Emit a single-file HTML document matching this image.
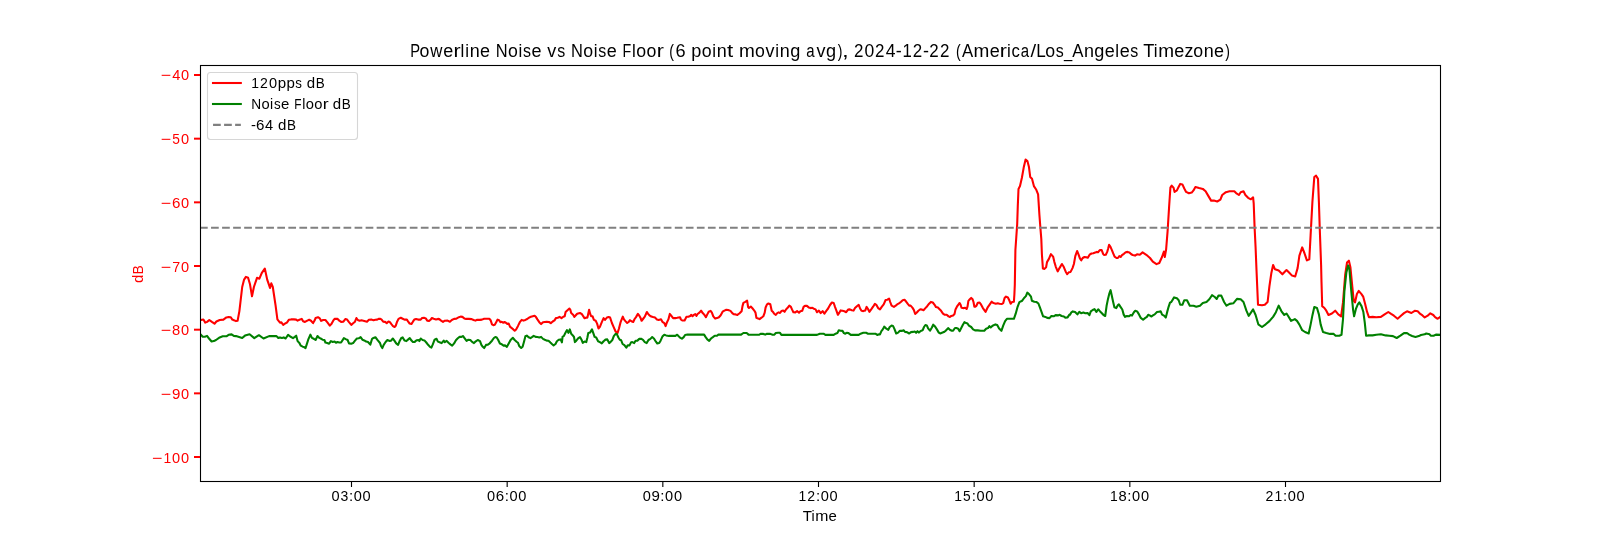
<!DOCTYPE html>
<html><head><meta charset="utf-8"><style>
html,body{margin:0;padding:0;background:#fff;}
svg{display:block;}
svg{will-change:transform;}
</style></head><body>
<svg width="1600" height="540" viewBox="0 0 1600 540" font-family="Liberation Sans, sans-serif">
<rect x="0" y="0" width="1600" height="540" fill="#fff"/>
<defs><clipPath id="ax"><rect x="200" y="65" width="1241" height="417"/></clipPath></defs>
<path clip-path="url(#ax)" d="M200.6,320.0 L203.4,319.5 L205.3,322.6 L207.1,321.9 L209.3,320.0 L211.9,321.9 L214.5,323.7 L216.4,321.5 L219.7,320.0 L223.4,319.6 L226.4,317.4 L228.6,317.0 L230.8,317.3 L232.3,319.6 L234.5,320.4 L236.0,321.1 L237.6,320.7 L239.4,311.1 L242.2,287.0 L244.1,279.6 L245.9,276.9 L248.1,277.8 L250.0,284.3 L252.0,296.3 L253.9,287.0 L257.0,277.8 L259.4,278.7 L261.7,273.1 L264.8,268.5 L267.2,279.6 L269.1,285.2 L270.0,288.0 L271.3,283.3 L272.8,287.0 L275.6,305.6 L277.4,319.4 L280.0,322.6 L281.4,322.4 L283.2,324.9 L285.1,323.5 L286.9,322.6 L288.8,319.8 L291.1,319.4 L293.9,319.4 L296.2,319.6 L297.6,320.6 L299.4,319.8 L301.8,318.9 L303.1,321.2 L305.0,321.9 L307.3,320.6 L309.2,319.8 L311.0,320.7 L313.1,323.1 L314.7,320.3 L315.6,318.0 L318.0,317.2 L319.8,318.4 L321.2,320.9 L323.1,320.0 L325.4,320.0 L327.2,322.1 L329.8,325.6 L331.4,324.0 L333.2,320.7 L334.6,318.9 L337.4,318.7 L339.3,320.7 L341.1,321.9 L343.4,321.7 L345.3,319.1 L347.1,319.6 L349.0,322.1 L351.3,324.9 L353.1,323.3 L355.0,321.7 L356.4,318.0 L357.8,320.0 L359.6,320.7 L361.5,320.3 L363.3,320.7 L365.2,321.2 L367.0,321.7 L368.9,319.8 L371.7,319.6 L373.5,320.3 L375.4,319.8 L377.2,319.6 L378.6,318.9 L380.0,318.7 L381.4,319.4 L383.2,321.7 L385.1,321.9 L386.7,323.1 L388.5,321.5 L389.7,321.9 L391.6,324.4 L393.0,326.1 L394.6,327.0 L395.7,325.8 L397.1,321.7 L398.5,318.9 L400.8,317.8 L402.7,318.7 L404.5,319.6 L406.9,319.6 L408.2,321.7 L409.6,323.5 L411.5,324.0 L412.9,321.7 L414.3,319.6 L416.1,319.1 L418.0,319.6 L420.7,319.6 L422.1,318.0 L424.0,317.8 L425.8,318.4 L427.2,320.6 L429.1,320.9 L430.5,319.8 L431.9,318.0 L433.7,318.7 L436.0,319.4 L437.9,318.9 L439.3,319.1 L441.1,320.7 L443.0,321.9 L444.8,320.7 L447.6,320.6 L449.9,321.7 L451.8,320.0 L454.1,318.9 L456.4,318.7 L458.2,317.5 L460.6,316.6 L462.4,316.9 L464.3,318.4 L466.1,318.9 L468.9,318.9 L471.7,319.1 L473.5,320.0 L475.4,320.6 L477.2,319.8 L480.0,319.9 L481.9,319.6 L484.2,318.7 L486.5,318.7 L489.3,318.7 L490.6,320.2 L492.0,324.3 L493.4,325.2 L494.8,324.8 L496.2,322.2 L497.6,319.6 L499.0,320.2 L500.4,322.2 L501.8,321.8 L503.1,322.7 L504.5,322.0 L505.9,322.7 L507.3,323.9 L508.7,323.6 L510.1,326.9 L511.9,328.2 L513.3,329.4 L514.7,330.7 L516.1,329.4 L518.0,325.9 L519.8,322.2 L521.7,319.9 L523.5,320.6 L525.4,319.9 L527.2,319.0 L529.1,317.6 L530.9,316.7 L532.8,316.2 L534.6,315.7 L536.0,317.1 L537.4,319.4 L539.3,322.2 L541.1,324.1 L543.0,322.2 L544.8,322.0 L546.7,321.8 L549.0,322.0 L550.8,323.1 L552.7,321.5 L554.5,320.4 L555.9,318.1 L557.8,317.8 L559.6,316.9 L561.5,318.1 L563.3,316.7 L564.7,316.2 L565.6,312.0 L567.5,310.2 L569.4,308.5 L570.3,309.7 L571.2,313.0 L573.1,314.8 L574.4,316.9 L575.8,315.3 L577.2,313.7 L580.0,313.0 L581.9,314.1 L583.2,316.2 L584.6,318.3 L586.5,317.6 L587.4,317.6 L589.1,309.7 L590.2,313.9 L591.1,316.2 L592.5,316.2 L593.9,319.9 L595.7,320.8 L597.1,323.6 L598.5,328.5 L599.9,326.9 L601.8,322.2 L603.6,318.1 L605.0,319.9 L606.9,317.6 L608.7,317.1 L610.1,317.6 L611.9,323.0 L613.8,327.3 L615.6,331.5 L617.5,333.1 L618.9,328.7 L620.7,321.8 L622.8,316.7 L624.0,319.4 L625.4,321.1 L627.2,323.0 L628.6,322.0 L630.0,320.2 L631.4,321.3 L633.2,322.0 L634.6,319.0 L636.0,317.1 L637.9,313.9 L639.3,315.7 L640.6,318.1 L641.6,320.8 L643.0,319.0 L644.8,316.7 L646.9,312.0 L648.1,313.9 L649.4,315.3 L651.3,316.5 L653.1,317.1 L655.0,317.6 L656.9,319.4 L658.7,319.9 L661.0,319.3 L662.4,321.8 L664.3,323.1 L665.6,326.1 L667.0,322.2 L668.4,319.4 L669.8,313.9 L671.2,315.7 L673.1,318.1 L675.4,318.1 L677.2,317.8 L680.0,317.2 L680.9,319.5 L682.3,320.5 L684.6,320.5 L685.6,318.6 L686.5,316.8 L688.3,316.8 L690.2,316.1 L691.1,314.9 L692.5,316.1 L693.9,314.9 L695.3,314.0 L696.5,315.8 L697.6,314.0 L699.4,312.6 L701.1,310.7 L702.7,313.1 L704.1,314.4 L705.9,317.2 L707.3,314.4 L708.7,311.7 L710.6,310.9 L711.9,312.6 L713.3,316.3 L715.2,318.6 L717.0,318.1 L718.9,317.2 L720.7,315.2 L722.6,311.7 L724.4,310.6 L726.3,309.8 L728.1,310.0 L730.5,310.9 L732.3,313.1 L733.7,314.3 L735.6,314.4 L737.4,314.9 L739.3,313.5 L741.6,311.2 L742.5,306.1 L743.4,302.9 L745.3,301.9 L747.1,300.7 L748.1,307.0 L749.0,308.0 L750.8,306.6 L752.2,308.0 L754.1,310.3 L755.5,312.6 L756.4,317.7 L758.2,318.6 L759.6,319.1 L761.5,317.7 L763.3,316.3 L764.7,312.6 L765.6,307.5 L767.0,304.3 L768.4,303.5 L770.3,304.3 L771.7,310.7 L773.1,312.1 L774.4,314.0 L775.8,314.9 L777.2,313.1 L778.6,312.4 L780.0,313.0 L781.4,311.1 L783.2,310.6 L784.6,311.8 L786.0,309.4 L787.4,308.1 L789.3,305.6 L790.9,306.9 L792.0,309.4 L793.4,312.2 L795.3,312.4 L797.1,311.1 L799.0,312.7 L800.4,311.3 L802.2,310.8 L803.6,306.9 L805.0,305.7 L806.9,305.9 L808.7,307.4 L810.6,308.1 L812.4,307.8 L813.8,308.7 L815.6,309.4 L817.0,312.2 L818.9,310.6 L820.7,313.1 L822.6,311.1 L824.4,313.6 L826.3,310.8 L828.1,308.5 L830.0,305.0 L831.9,302.5 L833.7,303.0 L835.1,307.1 L836.5,310.8 L837.9,314.8 L839.3,312.7 L840.6,310.4 L842.5,310.8 L844.4,311.3 L846.2,312.2 L848.1,309.6 L849.9,309.4 L851.8,310.2 L853.6,310.6 L855.0,308.1 L856.9,306.2 L858.7,304.8 L860.1,308.5 L861.5,310.8 L863.3,311.1 L865.2,310.6 L866.6,306.9 L868.0,309.0 L869.4,311.8 L871.2,309.4 L873.1,306.7 L874.9,303.9 L876.3,304.8 L878.1,308.1 L880.0,309.4 L881.9,306.7 L883.7,304.4 L885.6,300.0 L887.4,299.7 L889.1,298.5 L890.2,302.0 L891.6,305.7 L893.9,306.9 L895.7,305.7 L897.1,304.4 L899.0,303.4 L900.8,302.0 L902.7,300.2 L904.5,299.7 L905.9,301.3 L907.8,303.9 L909.2,305.6 L910.6,305.6 L912.4,307.6 L913.8,309.9 L915.2,313.9 L916.6,312.7 L918.4,310.8 L920.3,309.3 L922.1,309.6 L923.5,310.2 L925.4,308.1 L927.2,306.2 L929.1,303.7 L930.9,301.9 L932.8,302.5 L934.6,304.8 L936.0,307.1 L937.9,307.6 L939.3,309.0 L941.1,310.8 L943.0,313.6 L944.8,314.8 L946.7,314.8 L948.5,316.4 L949.9,317.0 L951.3,315.9 L953.1,315.5 L954.5,314.1 L955.5,309.4 L956.9,306.7 L958.2,304.8 L959.6,303.0 L960.6,304.8 L961.5,307.8 L963.8,308.1 L965.2,307.8 L966.6,309.0 L967.5,306.7 L968.4,300.9 L969.8,299.3 L971.2,297.9 L972.6,299.3 L973.5,302.0 L974.4,306.7 L975.0,306.8 L976.4,305.8 L977.8,302.8 L979.6,302.6 L981.0,304.4 L982.9,308.1 L985.6,311.9 L987.5,307.7 L989.8,304.4 L991.7,301.7 L993.5,303.1 L995.8,303.7 L997.7,303.3 L999.5,303.7 L1001.9,304.0 L1003.2,303.1 L1004.6,298.0 L1006.0,296.6 L1007.9,297.5 L1009.3,300.3 L1010.6,303.7 L1012.0,302.1 L1013.9,301.7 L1014.4,294.3 L1014.8,285.0 L1015.4,250.0 L1016.3,237.0 L1017.2,224.1 L1017.8,205.6 L1018.5,188.9 L1020.0,186.1 L1021.9,177.8 L1023.7,167.6 L1025.6,159.6 L1027.4,161.1 L1028.9,166.7 L1030.2,176.9 L1032.0,178.7 L1033.9,186.1 L1036.3,189.8 L1038.1,194.4 L1039.4,214.8 L1040.4,227.8 L1041.3,238.9 L1041.9,254.3 L1042.9,268.6 L1044.3,268.9 L1046.1,267.2 L1047.0,262.1 L1048.9,258.9 L1050.9,254.1 L1053.1,256.6 L1054.4,262.1 L1055.8,266.8 L1057.7,271.4 L1059.5,268.1 L1061.9,264.0 L1063.7,266.8 L1065.6,271.4 L1067.2,274.2 L1068.8,272.3 L1070.6,271.9 L1072.5,268.1 L1073.9,264.0 L1075.3,256.1 L1077.1,251.0 L1078.5,254.3 L1079.9,258.4 L1081.3,260.3 L1082.7,258.0 L1084.5,257.0 L1086.4,257.2 L1087.8,257.8 L1089.6,254.7 L1091.5,253.5 L1093.3,253.3 L1095.2,252.6 L1096.6,251.9 L1098.0,252.2 L1099.8,250.1 L1101.7,250.1 L1103.1,253.8 L1104.0,255.0 L1105.8,254.7 L1107.2,251.9 L1108.1,248.7 L1109.1,244.8 L1110.5,246.9 L1111.9,250.1 L1113.2,253.3 L1114.6,256.6 L1116.5,258.0 L1117.9,258.0 L1119.3,256.1 L1120.6,257.0 L1122.0,255.2 L1123.9,253.8 L1125.7,252.2 L1127.6,251.9 L1129.4,252.4 L1131.3,254.3 L1132.7,255.0 L1135.0,255.6 L1137.0,254.3 L1139.8,254.8 L1142.6,252.4 L1146.3,254.8 L1150.0,258.0 L1152.8,261.7 L1156.5,264.1 L1159.3,263.0 L1162.0,257.0 L1163.9,251.5 L1164.8,257.0 L1166.1,249.6 L1167.6,231.1 L1169.1,207.0 L1170.4,187.6 L1171.7,185.7 L1173.5,187.6 L1174.6,191.9 L1176.9,190.4 L1178.7,186.7 L1180.2,183.9 L1182.4,184.4 L1184.3,188.5 L1186.1,191.9 L1188.9,193.3 L1191.7,192.6 L1193.5,190.4 L1195.4,187.0 L1199.1,188.1 L1202.8,188.9 L1205.6,191.3 L1208.3,195.9 L1211.1,200.6 L1213.9,200.6 L1217.2,201.5 L1220.4,199.6 L1222.2,195.0 L1225.9,192.2 L1229.6,191.3 L1234.3,191.3 L1236.1,193.1 L1238.9,195.0 L1240.7,192.2 L1243.5,191.3 L1245.4,195.0 L1248.1,197.8 L1250.9,199.3 L1253.1,197.4 L1253.7,203.3 L1254.6,227.4 L1255.6,247.8 L1256.5,270.0 L1257.2,286.3 L1258.0,304.8 L1262.0,305.2 L1264.8,304.8 L1267.6,302.0 L1269.4,286.3 L1271.3,273.3 L1273.1,265.0 L1275.0,269.3 L1278.7,270.6 L1282.4,274.3 L1285.0,271.5 L1286.5,270.0 L1289.3,272.8 L1292.0,275.6 L1295.2,276.5 L1297.6,268.1 L1299.4,255.7 L1302.2,247.4 L1304.4,253.0 L1306.9,260.4 L1309.3,259.4 L1310.6,235.4 L1312.4,202.0 L1314.3,177.0 L1316.1,175.7 L1318.0,178.9 L1318.9,202.0 L1319.8,229.8 L1321.1,265.0 L1321.5,282.0 L1322.2,306.1 L1324.4,308.0 L1326.3,310.7 L1328.5,315.0 L1331.9,313.5 L1335.2,310.7 L1338.3,314.4 L1341.1,316.3 L1343.0,302.4 L1345.2,274.6 L1347.0,262.6 L1348.9,260.7 L1350.4,267.2 L1352.2,285.7 L1353.7,300.6 L1355.0,302.4 L1356.9,294.1 L1358.7,290.9 L1361.5,294.1 L1363.3,296.9 L1365.2,304.3 L1367.0,311.7 L1368.9,317.2 L1372.6,316.9 L1376.3,317.2 L1380.9,316.9 L1384.6,314.4 L1388.3,312.0 L1391.1,313.9 L1393.9,315.7 L1397.6,318.7 L1400.4,316.3 L1404.0,313.1 L1407.0,311.3 L1411.4,313.0 L1414.7,310.8 L1417.7,311.3 L1420.3,313.9 L1422.5,315.4 L1424.7,317.4 L1427.7,315.7 L1430.3,313.3 L1433.3,315.0 L1435.1,317.2 L1437.3,318.7 L1438.8,318.0 L1440.1,316.9" fill="none" stroke="#ff0000" stroke-width="2.08" stroke-linejoin="round" stroke-linecap="square"/>
<path clip-path="url(#ax)" d="M200.6,334.4 L202.7,336.8 L204.9,336.7 L207.0,335.9 L209.0,338.5 L211.6,341.5 L213.8,341.1 L216.0,340.0 L219.7,337.4 L222.7,336.3 L226.4,336.3 L228.6,334.8 L231.6,334.4 L233.8,335.9 L236.0,336.1 L242.2,338.0 L245.0,335.6 L249.6,334.3 L254.3,338.1 L258.9,335.2 L263.5,338.5 L269.1,336.1 L276.5,336.1 L278.3,338.0 L280.0,337.4 L281.9,337.9 L283.7,337.4 L285.6,338.5 L288.1,334.8 L290.2,336.5 L293.0,338.1 L294.8,336.9 L296.2,335.7 L297.6,341.1 L299.4,343.0 L300.8,345.7 L302.7,346.7 L304.1,347.1 L305.5,348.1 L306.9,343.9 L308.2,339.7 L310.4,334.6 L311.9,337.9 L313.8,338.8 L315.6,340.0 L317.5,336.0 L319.4,337.9 L321.2,338.8 L322.6,339.7 L324.4,340.0 L325.4,342.5 L327.2,343.0 L329.1,343.7 L330.9,341.1 L332.8,342.0 L334.6,341.6 L336.0,342.8 L337.4,342.0 L339.3,342.5 L341.1,342.5 L343.9,338.1 L345.7,339.1 L347.6,340.0 L349.0,343.4 L351.3,343.7 L353.1,343.1 L355.0,340.6 L356.9,338.5 L358.7,338.3 L360.6,337.2 L362.4,339.7 L364.3,340.4 L366.1,341.6 L368.0,342.0 L370.3,344.6 L372.1,338.8 L373.5,337.9 L375.4,337.2 L377.2,339.7 L380.0,343.0 L380.9,345.7 L382.3,348.1 L383.7,344.8 L385.6,342.0 L387.4,340.0 L389.3,340.9 L391.1,340.6 L392.8,338.5 L394.4,340.6 L396.2,343.4 L398.1,344.8 L399.4,341.6 L401.3,337.9 L402.7,337.4 L404.5,340.6 L406.4,341.1 L408.2,339.4 L409.8,338.1 L411.5,340.6 L412.9,342.0 L414.7,341.9 L416.6,340.2 L418.4,340.0 L419.4,341.1 L420.7,338.5 L422.6,340.0 L424.4,340.4 L426.3,342.5 L428.1,344.8 L430.0,346.9 L431.4,347.6 L432.8,344.4 L434.6,339.7 L436.5,338.8 L437.9,341.6 L440.2,342.5 L441.6,343.1 L443.7,340.6 L444.8,342.2 L446.7,340.9 L448.5,342.8 L450.4,344.4 L452.2,345.7 L454.1,343.4 L455.9,340.2 L457.8,338.3 L459.6,336.9 L461.5,336.9 L462.9,336.0 L464.7,338.3 L466.6,340.9 L468.4,339.7 L470.3,340.0 L472.1,341.9 L474.0,343.1 L475.8,341.3 L477.7,340.0 L480.0,341.2 L481.4,344.9 L482.8,346.8 L484.2,348.1 L486.0,344.9 L487.9,344.6 L489.7,343.3 L492.0,340.7 L493.9,338.0 L495.3,337.0 L496.7,337.5 L498.1,339.8 L499.9,343.5 L501.8,344.3 L503.6,345.6 L505.0,345.4 L506.9,346.8 L508.7,343.5 L510.6,340.0 L512.9,337.8 L514.7,340.0 L516.6,341.7 L518.0,342.8 L519.4,346.3 L521.2,348.0 L522.6,346.8 L524.0,341.7 L525.4,336.3 L526.8,335.6 L528.6,337.2 L530.5,338.1 L532.3,336.9 L533.7,335.9 L535.6,336.9 L537.4,337.0 L539.3,337.5 L541.1,336.9 L543.0,338.9 L544.8,339.8 L546.7,340.6 L548.5,340.7 L550.4,342.6 L552.2,344.3 L553.6,345.4 L555.5,344.0 L556.9,341.2 L558.7,339.8 L560.6,339.4 L561.9,342.4 L562.6,336.6 L563.8,336.1 L565.2,333.3 L567.0,330.1 L568.4,332.9 L569.8,329.4 L571.2,333.8 L572.6,335.2 L574.0,337.0 L574.9,342.1 L576.3,340.7 L578.1,338.4 L580.0,337.0 L581.4,339.4 L582.8,342.8 L584.6,341.5 L586.3,342.1 L587.4,337.5 L588.3,332.9 L590.2,332.4 L592.0,329.4 L593.4,333.3 L594.6,336.9 L596.2,337.5 L598.1,341.2 L599.9,342.1 L601.8,343.3 L603.6,341.2 L605.5,339.6 L607.3,339.4 L609.2,343.1 L611.0,341.5 L612.4,339.8 L613.8,336.1 L615.6,333.8 L617.0,334.3 L618.4,337.5 L619.8,339.8 L621.2,340.3 L622.6,344.0 L624.4,345.2 L626.3,347.7 L627.7,345.4 L629.5,345.4 L630.9,342.6 L632.3,342.1 L634.2,343.1 L635.6,340.7 L637.4,340.6 L639.3,338.9 L641.1,338.7 L643.0,339.8 L644.8,342.1 L646.7,343.1 L648.5,340.0 L650.4,338.9 L652.2,337.0 L654.1,338.7 L655.9,341.7 L657.3,343.5 L659.2,343.1 L660.6,340.7 L662.4,336.6 L664.3,334.7 L666.1,335.4 L668.9,335.9 L672.6,335.9 L675.4,335.9 L677.2,334.7 L680.0,337.6 L681.9,338.7 L683.7,337.1 L685.1,335.0 L687.4,334.6 L691.1,334.6 L695.7,334.6 L700.4,334.6 L704.1,334.6 L705.5,336.9 L707.3,339.4 L709.2,340.8 L711.0,338.5 L712.9,337.1 L714.7,335.7 L717.0,335.7 L718.4,334.6 L721.7,334.6 L726.3,334.6 L730.9,334.6 L735.6,334.6 L741.1,334.6 L743.4,333.0 L746.7,333.0 L748.5,334.6 L752.2,334.8 L755.9,334.8 L759.2,334.8 L760.6,333.7 L763.3,333.9 L765.2,334.6 L767.0,333.7 L770.3,333.9 L772.6,334.8 L774.4,334.6 L775.8,333.0 L778.1,332.8 L780.0,332.8 L781.4,334.9 L784.6,334.9 L789.3,334.9 L798.5,334.9 L807.8,334.9 L817.0,334.9 L819.8,333.7 L823.5,333.7 L825.4,334.9 L830.0,334.9 L833.7,334.9 L835.6,333.7 L837.4,333.1 L838.8,330.3 L840.6,330.7 L842.5,330.9 L843.9,333.1 L845.3,333.7 L846.7,332.8 L848.5,333.1 L850.8,334.9 L854.1,334.9 L858.7,334.9 L860.6,333.7 L863.3,332.8 L866.1,332.8 L868.0,333.7 L871.7,333.7 L875.4,333.7 L877.2,334.9 L878.6,334.4 L880.0,334.4 L881.4,331.2 L882.8,329.4 L884.2,326.6 L886.0,328.4 L888.3,329.8 L889.7,327.0 L891.6,325.6 L893.0,325.9 L894.4,328.9 L896.2,333.5 L898.1,332.6 L899.9,330.7 L901.8,330.9 L903.6,330.3 L905.0,331.9 L906.9,332.1 L909.2,333.5 L911.0,332.1 L912.9,331.9 L914.7,331.5 L916.1,332.8 L917.5,331.2 L918.9,332.6 L920.7,330.9 L922.6,330.3 L924.0,327.0 L925.4,325.0 L926.8,325.4 L928.1,328.4 L930.0,330.7 L931.9,327.5 L933.2,324.7 L935.1,326.6 L936.9,329.4 L938.8,332.6 L940.2,333.5 L942.0,332.8 L943.9,332.1 L945.7,330.7 L948.1,328.1 L949.9,329.8 L951.8,330.7 L953.1,330.7 L955.0,328.0 L956.4,328.0 L958.2,328.7 L959.6,331.2 L961.5,327.5 L962.9,324.7 L964.4,322.2 L966.1,323.1 L967.5,323.5 L968.9,325.6 L971.2,327.0 L973.1,329.4 L975.0,330.4 L977.8,330.4 L980.6,330.8 L984.3,330.8 L986.1,328.7 L988.0,328.1 L989.4,326.2 L990.7,327.4 L992.6,325.7 L995.4,324.4 L997.2,325.0 L999.1,328.5 L1001.4,330.8 L1003.2,325.7 L1005.1,321.1 L1006.9,318.8 L1009.3,318.8 L1012.0,318.8 L1013.9,318.8 L1015.7,313.7 L1017.6,306.8 L1019.4,302.1 L1022.2,300.7 L1024.1,298.0 L1025.9,296.1 L1027.3,292.6 L1029.2,294.3 L1031.0,296.6 L1031.9,300.7 L1034.3,301.7 L1036.6,302.1 L1038.4,303.5 L1039.8,307.2 L1041.7,312.3 L1043.1,316.3 L1045.4,316.9 L1047.2,317.9 L1049.5,318.1 L1051.4,316.0 L1053.7,316.3 L1055.6,315.1 L1057.9,315.4 L1059.7,314.8 L1061.6,316.0 L1063.9,316.5 L1065.3,317.6 L1067.6,317.4 L1069.4,314.6 L1070.0,314.8 L1071.4,312.3 L1072.8,311.4 L1075.1,312.0 L1077.4,314.4 L1079.3,311.9 L1081.1,313.2 L1083.4,312.6 L1085.3,313.2 L1087.6,313.0 L1089.4,315.1 L1090.8,311.4 L1092.7,310.0 L1094.5,309.1 L1096.4,311.9 L1098.2,309.3 L1100.1,311.4 L1101.9,313.2 L1103.3,314.8 L1105.2,316.0 L1106.6,305.8 L1108.0,298.9 L1109.4,293.3 L1110.6,290.1 L1111.7,295.2 L1113.1,301.7 L1114.4,307.2 L1116.3,308.1 L1117.7,305.4 L1118.9,304.4 L1120.5,306.8 L1122.3,309.5 L1123.7,314.6 L1125.1,316.9 L1126.9,316.0 L1128.8,316.3 L1130.6,315.1 L1132.0,315.6 L1133.9,312.3 L1135.3,310.7 L1137.1,311.4 L1139.0,314.4 L1140.8,317.9 L1143.1,319.7 L1145.0,318.1 L1146.9,316.9 L1148.2,314.8 L1149.6,315.4 L1151.5,316.5 L1152.9,315.4 L1154.7,314.4 L1157.0,312.0 L1158.9,311.7 L1160.7,311.4 L1162.1,314.6 L1164.0,315.6 L1165.8,317.6 L1167.2,311.9 L1168.6,306.8 L1170.0,302.6 L1171.3,302.0 L1174.1,297.4 L1176.9,298.3 L1178.7,300.2 L1180.2,304.8 L1182.4,304.8 L1184.3,300.2 L1187.0,300.2 L1189.8,305.7 L1193.5,305.7 L1196.3,306.7 L1200.0,305.7 L1202.8,303.0 L1206.5,302.0 L1209.3,299.3 L1212.0,295.2 L1214.8,297.0 L1216.7,298.9 L1218.5,295.6 L1221.3,295.6 L1224.1,302.0 L1226.5,305.7 L1229.6,303.9 L1233.3,303.3 L1237.0,298.9 L1240.7,299.3 L1243.5,302.0 L1246.3,310.4 L1248.7,315.9 L1250.6,313.1 L1253.1,309.4 L1255.6,315.0 L1258.3,324.3 L1262.0,327.0 L1265.7,324.3 L1269.4,321.1 L1273.1,316.9 L1275.9,312.2 L1278.7,305.7 L1281.5,311.3 L1284.3,315.0 L1286.5,313.5 L1288.3,316.3 L1291.1,320.9 L1294.8,319.1 L1297.0,320.9 L1299.4,324.6 L1302.2,330.2 L1305.0,332.0 L1308.7,333.5 L1310.6,324.6 L1312.4,315.4 L1314.3,307.0 L1317.0,308.0 L1318.9,314.4 L1320.7,324.6 L1323.0,332.0 L1326.3,333.0 L1330.0,333.9 L1333.7,333.9 L1335.6,335.7 L1339.3,335.7 L1341.5,334.8 L1343.0,319.1 L1344.4,291.3 L1346.3,272.8 L1348.1,265.4 L1349.4,269.1 L1351.3,291.3 L1353.1,309.8 L1354.1,316.3 L1355.9,308.9 L1357.8,304.3 L1359.3,302.4 L1361.5,306.1 L1363.3,311.7 L1364.8,322.8 L1366.1,335.7 L1368.9,335.4 L1372.6,335.4 L1376.3,334.8 L1380.9,334.3 L1385.6,335.4 L1389.3,335.7 L1393.0,336.1 L1396.7,338.0 L1400.4,335.7 L1404.0,333.1 L1407.0,333.0 L1409.2,334.6 L1412.1,336.0 L1415.5,336.9 L1418.8,336.1 L1421.0,335.0 L1424.7,334.3 L1426.2,333.5 L1429.6,334.3 L1430.7,335.7 L1433.6,335.7 L1435.9,334.6 L1440.1,334.8" fill="none" stroke="#008000" stroke-width="2.08" stroke-linejoin="round" stroke-linecap="square"/>
<line x1="200" y1="227.81" x2="1440" y2="227.81" stroke="#808080" stroke-width="2.08" stroke-dasharray="7.7083,3.3333"/>
<rect x="200.5" y="65.5" width="1240.0" height="416.0" fill="none" stroke="#000" stroke-width="1.1"/>
<line x1="194" y1="75.00" x2="200" y2="75.00" stroke="#ff0000" stroke-width="2"/>
<line x1="194" y1="138.67" x2="200" y2="138.67" stroke="#ff0000" stroke-width="2"/>
<line x1="194" y1="202.34" x2="200" y2="202.34" stroke="#ff0000" stroke-width="2"/>
<line x1="194" y1="266.01" x2="200" y2="266.01" stroke="#ff0000" stroke-width="2"/>
<line x1="194" y1="329.68" x2="200" y2="329.68" stroke="#ff0000" stroke-width="2"/>
<line x1="194" y1="393.35" x2="200" y2="393.35" stroke="#ff0000" stroke-width="2"/>
<line x1="194" y1="457.02" x2="200" y2="457.02" stroke="#ff0000" stroke-width="2"/>
<line x1="351.50" y1="482" x2="351.50" y2="487" stroke="#000" stroke-width="1.11"/>
<line x1="507.17" y1="482" x2="507.17" y2="487" stroke="#000" stroke-width="1.11"/>
<line x1="662.83" y1="482" x2="662.83" y2="487" stroke="#000" stroke-width="1.11"/>
<line x1="818.50" y1="482" x2="818.50" y2="487" stroke="#000" stroke-width="1.11"/>
<line x1="974.17" y1="482" x2="974.17" y2="487" stroke="#000" stroke-width="1.11"/>
<line x1="1129.84" y1="482" x2="1129.84" y2="487" stroke="#000" stroke-width="1.11"/>
<line x1="1285.50" y1="482" x2="1285.50" y2="487" stroke="#000" stroke-width="1.11"/>
<text transform="translate(410.34,56.67) scale(0.833,1)" font-size="17.67" fill="#000">P</text>
<text transform="translate(419.48,56.67) scale(1.004,1)" font-size="17.67" fill="#000">o</text>
<text transform="translate(430.19,56.67) scale(0.952,1)" font-size="17.67" fill="#000">w</text>
<text transform="translate(443.24,56.67) scale(1.019,1)" font-size="17.67" fill="#000">e</text>
<text transform="translate(453.42,56.67) scale(1.206,1)" font-size="17.67" fill="#000">r</text>
<text transform="translate(460.57,56.67) scale(0.960,1)" font-size="17.67" fill="#000">l</text>
<text transform="translate(465.20,56.67) scale(0.960,1)" font-size="17.67" fill="#000">i</text>
<text transform="translate(469.71,56.67) scale(1.017,1)" font-size="17.67" fill="#000">n</text>
<text transform="translate(480.08,56.67) scale(1.019,1)" font-size="17.67" fill="#000">e</text>
<text transform="translate(495.72,56.67) scale(0.932,1)" font-size="17.67" fill="#000">N</text>
<text transform="translate(508.04,56.67) scale(1.004,1)" font-size="17.67" fill="#000">o</text>
<text transform="translate(518.48,56.67) scale(0.960,1)" font-size="17.67" fill="#000">i</text>
<text transform="translate(523.11,56.67) scale(0.904,1)" font-size="17.67" fill="#000">s</text>
<text transform="translate(531.48,56.67) scale(1.019,1)" font-size="17.67" fill="#000">e</text>
<text transform="translate(547.27,56.67) scale(1.018,1)" font-size="17.67" fill="#000">v</text>
<text transform="translate(557.13,56.67) scale(0.904,1)" font-size="17.67" fill="#000">s</text>
<text transform="translate(570.91,56.67) scale(0.932,1)" font-size="17.67" fill="#000">N</text>
<text transform="translate(583.23,56.67) scale(1.004,1)" font-size="17.67" fill="#000">o</text>
<text transform="translate(593.67,56.67) scale(0.960,1)" font-size="17.67" fill="#000">i</text>
<text transform="translate(598.30,56.67) scale(0.904,1)" font-size="17.67" fill="#000">s</text>
<text transform="translate(606.67,56.67) scale(1.019,1)" font-size="17.67" fill="#000">e</text>
<text transform="translate(622.49,56.67) scale(0.808,1)" font-size="17.67" fill="#000">F</text>
<text transform="translate(632.01,56.67) scale(0.960,1)" font-size="17.67" fill="#000">l</text>
<text transform="translate(636.37,56.67) scale(1.004,1)" font-size="17.67" fill="#000">o</text>
<text transform="translate(646.54,56.67) scale(1.004,1)" font-size="17.67" fill="#000">o</text>
<text transform="translate(656.65,56.67) scale(1.206,1)" font-size="17.67" fill="#000">r</text>
<text transform="translate(669.22,56.67) scale(0.796,1)" font-size="17.67" fill="#000">(</text>
<text transform="translate(675.39,56.67) scale(1.029,1)" font-size="17.67" fill="#000">6</text>
<text transform="translate(691.36,56.67) scale(1.026,1)" font-size="17.67" fill="#000">p</text>
<text transform="translate(701.74,56.67) scale(1.004,1)" font-size="17.67" fill="#000">o</text>
<text transform="translate(712.18,56.67) scale(0.960,1)" font-size="17.67" fill="#000">i</text>
<text transform="translate(716.68,56.67) scale(1.017,1)" font-size="17.67" fill="#000">n</text>
<text transform="translate(727.00,56.67) scale(1.260,1)" font-size="17.67" fill="#000">t</text>
<text transform="translate(738.95,56.67) scale(1.075,1)" font-size="17.67" fill="#000">m</text>
<text transform="translate(755.06,56.67) scale(1.004,1)" font-size="17.67" fill="#000">o</text>
<text transform="translate(765.50,56.67) scale(1.018,1)" font-size="17.67" fill="#000">v</text>
<text transform="translate(775.34,56.67) scale(0.960,1)" font-size="17.67" fill="#000">i</text>
<text transform="translate(779.85,56.67) scale(1.017,1)" font-size="17.67" fill="#000">n</text>
<text transform="translate(790.21,56.67) scale(1.026,1)" font-size="17.67" fill="#000">g</text>
<text transform="translate(806.26,56.67) scale(0.848,1)" font-size="17.67" fill="#000">a</text>
<text transform="translate(816.52,56.67) scale(1.018,1)" font-size="17.67" fill="#000">v</text>
<text transform="translate(826.07,56.67) scale(1.026,1)" font-size="17.67" fill="#000">g</text>
<text transform="translate(837.73,56.67) scale(0.796,1)" font-size="17.67" fill="#000">)</text>
<text transform="translate(842.06,56.67) scale(1.382,1)" font-size="17.67" fill="#000">,</text>
<text transform="translate(853.89,56.67) scale(0.959,1)" font-size="17.67" fill="#000">2</text>
<text transform="translate(864.52,56.67) scale(0.994,1)" font-size="17.67" fill="#000">0</text>
<text transform="translate(875.05,56.67) scale(0.959,1)" font-size="17.67" fill="#000">2</text>
<text transform="translate(885.69,56.67) scale(0.995,1)" font-size="17.67" fill="#000">4</text>
<text transform="translate(895.86,56.67) scale(1.018,1)" font-size="17.67" fill="#000">-</text>
<text transform="translate(902.39,56.67) scale(0.949,1)" font-size="17.67" fill="#000">1</text>
<text transform="translate(912.78,56.67) scale(0.959,1)" font-size="17.67" fill="#000">2</text>
<text transform="translate(923.01,56.67) scale(1.018,1)" font-size="17.67" fill="#000">-</text>
<text transform="translate(929.36,56.67) scale(0.959,1)" font-size="17.67" fill="#000">2</text>
<text transform="translate(939.93,56.67) scale(0.959,1)" font-size="17.67" fill="#000">2</text>
<text transform="translate(955.98,56.67) scale(0.796,1)" font-size="17.67" fill="#000">(</text>
<text transform="translate(962.01,56.67) scale(0.950,1)" font-size="17.67" fill="#000">A</text>
<text transform="translate(973.55,56.67) scale(1.075,1)" font-size="17.67" fill="#000">m</text>
<text transform="translate(989.64,56.67) scale(1.019,1)" font-size="17.67" fill="#000">e</text>
<text transform="translate(999.82,56.67) scale(1.206,1)" font-size="17.67" fill="#000">r</text>
<text transform="translate(1006.99,56.67) scale(0.960,1)" font-size="17.67" fill="#000">i</text>
<text transform="translate(1011.38,56.67) scale(0.947,1)" font-size="17.67" fill="#000">c</text>
<text transform="translate(1020.67,56.67) scale(0.848,1)" font-size="17.67" fill="#000">a</text>
<text transform="translate(1030.50,56.67) scale(1.144,1)" font-size="17.67" fill="#000">/</text>
<text transform="translate(1036.33,56.67) scale(0.970,1)" font-size="17.67" fill="#000">L</text>
<text transform="translate(1045.28,56.67) scale(1.004,1)" font-size="17.67" fill="#000">o</text>
<text transform="translate(1055.73,56.67) scale(0.904,1)" font-size="17.67" fill="#000">s</text>
<text transform="translate(1064.01,56.67) scale(0.840,1)" font-size="17.67" fill="#000">_</text>
<text transform="translate(1072.35,56.67) scale(0.950,1)" font-size="17.67" fill="#000">A</text>
<text transform="translate(1083.95,56.67) scale(1.017,1)" font-size="17.67" fill="#000">n</text>
<text transform="translate(1094.32,56.67) scale(1.026,1)" font-size="17.67" fill="#000">g</text>
<text transform="translate(1104.87,56.67) scale(1.019,1)" font-size="17.67" fill="#000">e</text>
<text transform="translate(1115.37,56.67) scale(0.960,1)" font-size="17.67" fill="#000">l</text>
<text transform="translate(1119.72,56.67) scale(1.019,1)" font-size="17.67" fill="#000">e</text>
<text transform="translate(1130.25,56.67) scale(0.904,1)" font-size="17.67" fill="#000">s</text>
<text transform="translate(1143.29,56.67) scale(1.030,1)" font-size="17.67" fill="#000">T</text>
<text transform="translate(1153.83,56.67) scale(0.960,1)" font-size="17.67" fill="#000">i</text>
<text transform="translate(1158.27,56.67) scale(1.075,1)" font-size="17.67" fill="#000">m</text>
<text transform="translate(1174.37,56.67) scale(1.019,1)" font-size="17.67" fill="#000">e</text>
<text transform="translate(1184.43,56.67) scale(1.011,1)" font-size="17.67" fill="#000">z</text>
<text transform="translate(1193.33,56.67) scale(1.004,1)" font-size="17.67" fill="#000">o</text>
<text transform="translate(1203.66,56.67) scale(1.017,1)" font-size="17.67" fill="#000">n</text>
<text transform="translate(1214.03,56.67) scale(1.019,1)" font-size="17.67" fill="#000">e</text>
<text transform="translate(1225.35,56.67) scale(0.796,1)" font-size="17.67" fill="#000">)</text>
<text transform="translate(160.80,80.00) scale(1.212,1)" font-size="14.72" fill="#ff0000">−</text>
<text transform="translate(172.17,80.00) scale(0.992,1)" font-size="14.72" fill="#ff0000">4</text>
<text transform="translate(181.00,80.00) scale(0.991,1)" font-size="14.72" fill="#ff0000">0</text>
<text transform="translate(160.80,144.00) scale(1.212,1)" font-size="14.72" fill="#ff0000">−</text>
<text transform="translate(172.35,144.00) scale(0.935,1)" font-size="14.72" fill="#ff0000">5</text>
<text transform="translate(181.00,144.00) scale(0.991,1)" font-size="14.72" fill="#ff0000">0</text>
<text transform="translate(160.80,208.00) scale(1.212,1)" font-size="14.72" fill="#ff0000">−</text>
<text transform="translate(172.02,208.00) scale(1.028,1)" font-size="14.72" fill="#ff0000">6</text>
<text transform="translate(181.00,208.00) scale(0.991,1)" font-size="14.72" fill="#ff0000">0</text>
<text transform="translate(160.80,272.00) scale(1.212,1)" font-size="14.72" fill="#ff0000">−</text>
<text transform="translate(172.22,272.00) scale(0.970,1)" font-size="14.72" fill="#ff0000">7</text>
<text transform="translate(181.00,272.00) scale(0.991,1)" font-size="14.72" fill="#ff0000">0</text>
<text transform="translate(160.80,335.00) scale(1.212,1)" font-size="14.72" fill="#ff0000">−</text>
<text transform="translate(172.12,335.00) scale(1.002,1)" font-size="14.72" fill="#ff0000">8</text>
<text transform="translate(181.00,335.00) scale(0.991,1)" font-size="14.72" fill="#ff0000">0</text>
<text transform="translate(160.80,399.00) scale(1.212,1)" font-size="14.72" fill="#ff0000">−</text>
<text transform="translate(171.98,399.00) scale(1.023,1)" font-size="14.72" fill="#ff0000">9</text>
<text transform="translate(181.00,399.00) scale(0.991,1)" font-size="14.72" fill="#ff0000">0</text>
<text transform="translate(151.90,463.00) scale(1.212,1)" font-size="14.72" fill="#ff0000">−</text>
<text transform="translate(163.39,463.00) scale(0.946,1)" font-size="14.72" fill="#ff0000">1</text>
<text transform="translate(172.10,463.00) scale(0.991,1)" font-size="14.72" fill="#ff0000">0</text>
<text transform="translate(180.93,463.00) scale(0.991,1)" font-size="14.72" fill="#ff0000">0</text>
<text transform="translate(331.46,500.93) scale(0.991,1)" font-size="14.72" fill="#000">0</text>
<text transform="translate(340.45,500.93) scale(0.953,1)" font-size="14.72" fill="#000">3</text>
<text transform="translate(349.01,500.93) scale(1.022,1)" font-size="14.72" fill="#000">:</text>
<text transform="translate(353.79,500.93) scale(0.991,1)" font-size="14.72" fill="#000">0</text>
<text transform="translate(362.61,500.93) scale(0.991,1)" font-size="14.72" fill="#000">0</text>
<text transform="translate(487.12,500.93) scale(0.991,1)" font-size="14.72" fill="#000">0</text>
<text transform="translate(495.80,500.93) scale(1.028,1)" font-size="14.72" fill="#000">6</text>
<text transform="translate(504.68,500.93) scale(1.022,1)" font-size="14.72" fill="#000">:</text>
<text transform="translate(509.45,500.93) scale(0.991,1)" font-size="14.72" fill="#000">0</text>
<text transform="translate(518.28,500.93) scale(0.991,1)" font-size="14.72" fill="#000">0</text>
<text transform="translate(642.79,500.93) scale(0.991,1)" font-size="14.72" fill="#000">0</text>
<text transform="translate(651.43,500.93) scale(1.023,1)" font-size="14.72" fill="#000">9</text>
<text transform="translate(660.35,500.93) scale(1.022,1)" font-size="14.72" fill="#000">:</text>
<text transform="translate(665.12,500.93) scale(0.991,1)" font-size="14.72" fill="#000">0</text>
<text transform="translate(673.95,500.93) scale(0.991,1)" font-size="14.72" fill="#000">0</text>
<text transform="translate(798.57,500.93) scale(0.946,1)" font-size="14.72" fill="#000">1</text>
<text transform="translate(807.25,500.93) scale(0.956,1)" font-size="14.72" fill="#000">2</text>
<text transform="translate(816.01,500.93) scale(1.022,1)" font-size="14.72" fill="#000">:</text>
<text transform="translate(820.79,500.93) scale(0.991,1)" font-size="14.72" fill="#000">0</text>
<text transform="translate(829.61,500.93) scale(0.991,1)" font-size="14.72" fill="#000">0</text>
<text transform="translate(954.24,500.93) scale(0.946,1)" font-size="14.72" fill="#000">1</text>
<text transform="translate(963.12,500.93) scale(0.935,1)" font-size="14.72" fill="#000">5</text>
<text transform="translate(971.68,500.93) scale(1.022,1)" font-size="14.72" fill="#000">:</text>
<text transform="translate(976.45,500.93) scale(0.991,1)" font-size="14.72" fill="#000">0</text>
<text transform="translate(985.28,500.93) scale(0.991,1)" font-size="14.72" fill="#000">0</text>
<text transform="translate(1109.91,500.93) scale(0.946,1)" font-size="14.72" fill="#000">1</text>
<text transform="translate(1118.57,500.93) scale(1.002,1)" font-size="14.72" fill="#000">8</text>
<text transform="translate(1127.35,500.93) scale(1.022,1)" font-size="14.72" fill="#000">:</text>
<text transform="translate(1132.12,500.93) scale(0.991,1)" font-size="14.72" fill="#000">0</text>
<text transform="translate(1140.95,500.93) scale(0.991,1)" font-size="14.72" fill="#000">0</text>
<text transform="translate(1265.42,500.93) scale(0.956,1)" font-size="14.72" fill="#000">2</text>
<text transform="translate(1274.40,500.93) scale(0.946,1)" font-size="14.72" fill="#000">1</text>
<text transform="translate(1283.02,500.93) scale(1.022,1)" font-size="14.72" fill="#000">:</text>
<text transform="translate(1287.79,500.93) scale(0.991,1)" font-size="14.72" fill="#000">0</text>
<text transform="translate(1296.62,500.93) scale(0.991,1)" font-size="14.72" fill="#000">0</text>
<text transform="translate(802.63,521.00) scale(1.026,1)" font-size="14.72" fill="#000">T</text>
<text transform="translate(811.46,521.00) scale(0.952,1)" font-size="14.72" fill="#000">i</text>
<text transform="translate(815.17,521.00) scale(1.073,1)" font-size="14.72" fill="#000">m</text>
<text transform="translate(828.60,521.00) scale(1.016,1)" font-size="14.72" fill="#000">e</text>
<g transform="translate(143.33,283.25) rotate(-90)">
<text transform="translate(0.14,0.00) scale(1.024,1)" font-size="14.72" fill="#ff0000">d</text>
<text transform="translate(9.07,0.00) scale(0.914,1)" font-size="14.72" fill="#ff0000">B</text>
</g>
<rect x="207.5" y="72.5" width="150" height="67" rx="3" fill="#fff" fill-opacity="0.8" stroke="#d6d6d6" stroke-width="1.11"/>
<line x1="213" y1="83" x2="240.8" y2="83" stroke="#ff0000" stroke-width="2.08" stroke-linecap="square"/>
<line x1="213" y1="104" x2="240.8" y2="104" stroke="#008000" stroke-width="2.08" stroke-linecap="square"/>
<line x1="213.05" y1="124.9" x2="240.85" y2="124.9" stroke="#808080" stroke-width="2.08" stroke-dasharray="7.7083,3.3333"/>
<text transform="translate(251.36,87.91) scale(0.946,1)" font-size="14.72" fill="#000">1</text>
<text transform="translate(260.03,87.91) scale(0.956,1)" font-size="14.72" fill="#000">2</text>
<text transform="translate(268.89,87.91) scale(0.991,1)" font-size="14.72" fill="#000">0</text>
<text transform="translate(277.66,87.91) scale(1.024,1)" font-size="14.72" fill="#000">p</text>
<text transform="translate(286.47,87.91) scale(1.024,1)" font-size="14.72" fill="#000">p</text>
<text transform="translate(295.37,87.91) scale(0.903,1)" font-size="14.72" fill="#000">s</text>
<text transform="translate(306.77,87.91) scale(1.024,1)" font-size="14.72" fill="#000">d</text>
<text transform="translate(315.69,87.91) scale(0.914,1)" font-size="14.72" fill="#000">B</text>
<text transform="translate(251.13,108.85) scale(0.930,1)" font-size="14.72" fill="#000">N</text>
<text transform="translate(261.43,108.85) scale(1.000,1)" font-size="14.72" fill="#000">o</text>
<text transform="translate(270.12,108.85) scale(0.952,1)" font-size="14.72" fill="#000">i</text>
<text transform="translate(274.00,108.85) scale(0.903,1)" font-size="14.72" fill="#000">s</text>
<text transform="translate(280.97,108.85) scale(1.016,1)" font-size="14.72" fill="#000">e</text>
<text transform="translate(294.18,108.85) scale(0.807,1)" font-size="14.72" fill="#000">F</text>
<text transform="translate(302.13,108.85) scale(0.952,1)" font-size="14.72" fill="#000">l</text>
<text transform="translate(305.78,108.85) scale(1.000,1)" font-size="14.72" fill="#000">o</text>
<text transform="translate(314.27,108.85) scale(1.000,1)" font-size="14.72" fill="#000">o</text>
<text transform="translate(322.69,108.85) scale(1.203,1)" font-size="14.72" fill="#000">r</text>
<text transform="translate(332.86,108.85) scale(1.024,1)" font-size="14.72" fill="#000">d</text>
<text transform="translate(341.78,108.85) scale(0.914,1)" font-size="14.72" fill="#000">B</text>
<text transform="translate(250.90,129.80) scale(1.013,1)" font-size="14.72" fill="#000">-</text>
<text transform="translate(256.09,129.80) scale(1.028,1)" font-size="14.72" fill="#000">6</text>
<text transform="translate(265.07,129.80) scale(0.992,1)" font-size="14.72" fill="#000">4</text>
<text transform="translate(278.10,129.80) scale(1.024,1)" font-size="14.72" fill="#000">d</text>
<text transform="translate(287.03,129.80) scale(0.914,1)" font-size="14.72" fill="#000">B</text>
</svg>
</body></html>
